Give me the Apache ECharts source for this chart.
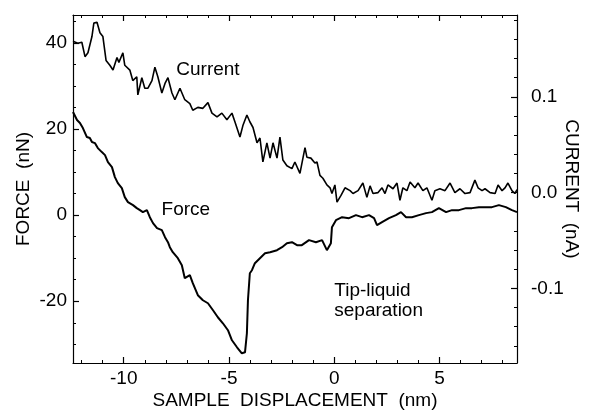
<!DOCTYPE html>
<html><head><meta charset="utf-8">
<script src="https://cdn.jsdelivr.net/npm/echarts@6/dist/echarts.min.js"></script>
<style>html,body{margin:0;padding:0;background:#fff}#c{width:589px;height:412px}</style>
</head><body><div id="c"></div><script>
// ---- data ----
const xCurrent = [-12.41,-12.18,-11.99,-11.84,-11.70,-11.51,-11.42,-11.27,-11.13,-10.99,-10.84,-10.66,-10.51,-10.32,-10.23,-10.04,-9.95,-9.71,-9.57,-9.38,-9.33,-9.14,-9.00,-8.85,-8.66,-8.52,-8.38,-8.19,-8.04,-7.90,-7.71,-7.57,-7.33,-7.10,-6.86,-6.72,-6.48,-6.24,-6.00,-5.81,-5.57,-5.34,-5.10,-4.86,-4.72,-4.48,-4.34,-4.15,-4.01,-3.86,-3.67,-3.53,-3.39,-3.20,-3.05,-2.91,-2.72,-2.58,-2.44,-2.25,-2.01,-1.87,-1.63,-1.39,-1.30,-1.11,-0.92,-0.82,-0.68,-0.54,-0.35,-0.20,-0.11,0.03,0.13,0.32,0.51,0.75,0.89,1.13,1.36,1.55,1.70,1.84,2.08,2.27,2.41,2.55,2.79,2.98,3.12,3.26,3.45,3.60,3.83,3.98,4.21,4.40,4.64,4.78,5.02,5.26,5.50,5.73,5.97,6.21,6.45,6.68,6.83,7.02,7.16,7.40,7.64,7.78,7.97,8.11,8.25,8.44,8.58,8.68];
const current = [0.158,0.156,0.157,0.142,0.146,0.163,0.177,0.178,0.167,0.163,0.138,0.133,0.128,0.141,0.136,0.146,0.133,0.128,0.117,0.121,0.102,0.120,0.109,0.109,0.117,0.131,0.121,0.104,0.114,0.120,0.104,0.097,0.109,0.097,0.093,0.086,0.089,0.088,0.094,0.083,0.079,0.083,0.076,0.083,0.074,0.058,0.070,0.081,0.074,0.068,0.052,0.057,0.032,0.052,0.036,0.052,0.036,0.058,0.034,0.028,0.025,0.032,0.020,0.047,0.037,0.036,0.031,0.032,0.018,0.015,0.008,0.005,-0.001,0.008,-0.010,-0.003,0.005,0.002,-0.001,0.002,0.010,-0.005,0.007,-0.001,0.000,0.005,-0.001,0.008,0.004,0.010,-0.008,0.005,0.002,0.011,0.005,0.010,0.002,0.005,-0.008,0.002,0.004,0.002,0.010,0.000,0.004,-0.001,0.000,0.013,0.005,0.002,0.004,0.000,-0.001,0.008,0.002,0.005,0.010,0.002,-0.001,0.003];
const xForce = [-12.41,-12.22,-12.08,-11.94,-11.75,-11.61,-11.51,-11.37,-11.23,-11.04,-10.89,-10.75,-10.56,-10.42,-10.28,-10.09,-9.95,-9.80,-9.56,-9.38,-9.23,-9.09,-8.90,-8.76,-8.61,-8.42,-8.19,-8.04,-7.90,-7.81,-7.67,-7.43,-7.24,-7.10,-6.86,-6.72,-6.48,-6.24,-6.00,-5.76,-5.53,-5.29,-5.05,-4.86,-4.62,-4.39,-4.24,-4.15,-4.10,-4.01,-3.91,-3.77,-3.53,-3.29,-3.05,-2.72,-2.48,-2.25,-2.01,-1.77,-1.54,-1.20,-0.87,-0.58,-0.35,-0.16,-0.11,0.08,0.37,0.70,1.03,1.32,1.65,1.89,2.03,2.27,2.60,2.93,3.17,3.41,3.69,4.02,4.36,4.64,4.97,5.31,5.59,5.92,6.26,6.54,6.87,7.20,7.49,7.82,8.15,8.44,8.68];
const force = [23.95,22.09,21.40,20.23,18.14,17.91,16.98,16.74,15.58,14.65,13.95,12.33,11.16,8.84,7.44,6.28,4.19,3.02,2.33,1.63,1.16,0.70,1.16,-0.47,-1.86,-3.02,-3.49,-5.12,-6.28,-7.44,-8.60,-10.0,-11.63,-14.65,-13.95,-15.81,-18.60,-19.77,-20.47,-22.09,-23.72,-25.12,-26.74,-29.07,-30.70,-32.09,-31.86,-27.44,-19.77,-13.49,-12.79,-11.16,-10.0,-8.84,-8.60,-8.14,-7.44,-6.51,-6.28,-6.98,-6.98,-5.81,-6.28,-5.81,-8.14,-6.51,-2.79,-1.16,-0.47,-0.70,0,-0.47,0,-0.70,-2.33,-1.63,-0.70,0,0.70,-0.47,-0.47,0,0.47,0.70,1.63,0.70,1.16,1.16,1.63,1.63,1.86,1.86,1.86,2.33,1.86,1.16,0.70];

const xMajor = [-10, -5, 0, 5];
const xMinor = [-12,-11,-9,-8,-7,-6,-4,-3,-2,-1,1,2,3,4,6,7,8];
const forceMajor = [-20, 0, 20, 40];
const forceMinor = [-30,-25,-15,-10,-5,5,10,15,25,30,35,45];
const currentMajor = [-0.1, 0, 0.1];
const currentMinor = [-0.16,-0.14,-0.12,-0.08,-0.06,-0.04,-0.02,0.02,0.04,0.06,0.08,0.12,0.14,0.16,0.18];

const xRange = [-12.41, 8.68];
const forceRange = [-34.35, 46.5];
const currentRange = [-0.178, 0.1855];

const notes = [
  {text: 'Current', x: -6.0, f: 33.7, align: 'center'},
  {text: 'Force', x: -7.05, f: 1.2, align: 'center'},
  {text: 'Tip-liquid\nseparation', x: 0, f: -20, align: 'left'}
];

// ---- chart ----
const FONT = '"Liberation Sans", Arial, Helvetica, sans-serif';
const FS = 19;
const black = '#000';
const txt = {color: black, fontFamily: FONT, fontSize: FS};

function axisBase(extra) {
  return Object.assign({
    type: 'value', splitLine: {show: false}, nameMoveOverlap: false,
    axisLine: {show: false, onZero: false, lineStyle: {color: black, width: 1.2}},
    axisLabel: {show: false},
    axisTick: {show: false}
  }, extra);
}
function majorTicks(vals) { return {show: true, inside: true, length: 6, customValues: vals, lineStyle: {color: black, width: 1.2}}; }
function minorTicks(vals) { return {show: true, inside: true, length: 3, customValues: vals, lineStyle: {color: black, width: 1}}; }

const chart = echarts.init(document.getElementById('c'), null, {renderer: 'canvas'});
chart.setOption({
  animation: false,
  backgroundColor: '#fff',
  grid: {left: 73, right: 72, top: 15, bottom: 49, containLabel: false, outerBoundsMode: 'none'},
  xAxis: [
    axisBase({position: 'bottom', min: xRange[0], max: xRange[1],
      name: 'SAMPLE  DISPLACEMENT  (nm)', nameLocation: 'middle', nameGap: 28, nameTextStyle: txt,
      axisLine: {show: true, onZero: false, lineStyle: {color: black, width: 1.2}},
      axisTick: majorTicks(xMajor),
      axisLabel: Object.assign({show: true, customValues: xMajor, margin: 6}, txt)}),
    axisBase({position: 'bottom', min: xRange[0], max: xRange[1], axisTick: minorTicks(xMinor)}),
    axisBase({position: 'top', min: xRange[0], max: xRange[1],
      axisLine: {show: true, onZero: false, lineStyle: {color: black, width: 1.2}},
      axisTick: majorTicks(xMajor)}),
    axisBase({position: 'top', min: xRange[0], max: xRange[1], axisTick: minorTicks(xMinor)})
  ],
  yAxis: [
    axisBase({position: 'left', min: forceRange[0], max: forceRange[1],
      name: 'FORCE  (nN)', nameLocation: 'middle', nameRotate: 90, nameGap: 40, nameTextStyle: txt,
      axisLine: {show: true, onZero: false, lineStyle: {color: black, width: 1.2}},
      axisTick: majorTicks(forceMajor),
      axisLabel: Object.assign({show: true, customValues: forceMajor, margin: 6}, txt)}),
    axisBase({position: 'left', min: forceRange[0], max: forceRange[1], axisTick: minorTicks(forceMinor)}),
    axisBase({position: 'right', min: currentRange[0], max: currentRange[1],
      name: 'CURRENT  (nA)', nameLocation: 'middle', nameRotate: -90, nameGap: 45, nameTextStyle: txt,
      axisLine: {show: true, onZero: false, lineStyle: {color: black, width: 1.2}},
      axisTick: majorTicks(currentMajor),
      axisLabel: Object.assign({show: true, customValues: currentMajor, margin: 14,
        formatter: v => v.toFixed(1)}, txt)}),
    axisBase({position: 'right', min: currentRange[0], max: currentRange[1], axisTick: minorTicks(currentMinor)})
  ],
  series: [
    {name: 'Current', type: 'line', xAxisIndex: 0, yAxisIndex: 2, showSymbol: false, symbol: 'none',
      data: xCurrent.map((x, i) => [x, current[i]]),
      lineStyle: {color: black, width: 1.6}, clip: true},
    {name: 'Force', type: 'line', xAxisIndex: 0, yAxisIndex: 0, showSymbol: false, symbol: 'none',
      data: xForce.map((x, i) => [x, force[i]]),
      lineStyle: {color: black, width: 2}, clip: true}
  ]
});

chart.setOption({
  graphic: notes.map(n => {
    const p = chart.convertToPixel({xAxisIndex: 0, yAxisIndex: 0}, [n.x, n.f]);
    return {type: 'text', x: p[0], y: p[1], silent: true,
      style: {text: n.text, fill: black, fontFamily: FONT, fontSize: FS, lineHeight: 20,
        align: n.align, verticalAlign: 'middle'}};
  })
});
</script></body></html>
